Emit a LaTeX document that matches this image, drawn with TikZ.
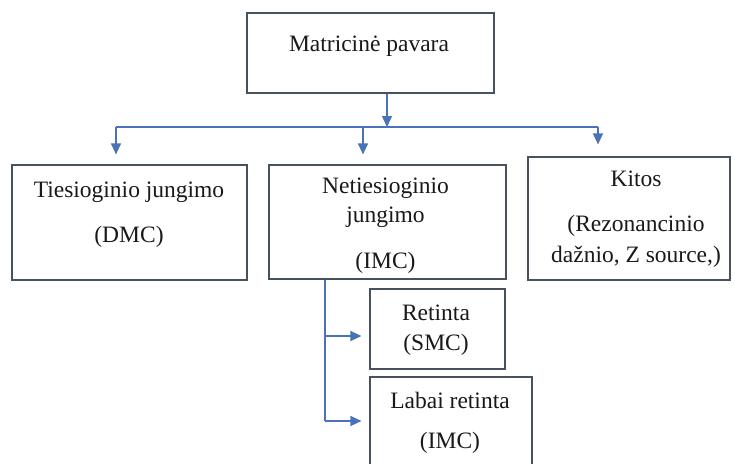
\documentclass[tikz,border=0pt]{standalone}
\usepackage{fontspec}
\setmainfont{Liberation Serif}
\usetikzlibrary{arrows.meta}
\definecolor{boxline}{RGB}{72,82,94}
\definecolor{conn}{RGB}{74,114,184}
\tikzset{
  box/.style={draw=boxline, line width=1.2pt, rectangle, inner sep=0pt, fill=white},
  lbl/.style={inner sep=0pt, font=\fontsize{23.5}{28}\selectfont, text=black!90},
  conline/.style={draw=conn, line width=1.4pt},
  arr/.style={conline, -{Triangle[length=11pt,width=10pt]}}
}
\begin{document}
\begin{tikzpicture}[x=1pt,y=-1pt]
\useasboundingbox (0,0) rectangle (735,463);
\clip (0,0) rectangle (735,463);
\fill[white] (0,0) rectangle (735,463);
% boxes
\node[box, minimum width=247pt, minimum height=80pt] (top) at (370.5,53) {};
\node[box, minimum width=235pt, minimum height=115pt] (b1) at (129.5,222.5) {};
\node[box, minimum width=237pt, minimum height=114pt] (b2) at (387.5,222) {};
\node[box, minimum width=202pt, minimum height=123pt] (b3) at (629,218.5) {};
\node[box, minimum width=135pt, minimum height=80pt] (b4) at (437.5,329) {};
\node[box, minimum width=162pt, minimum height=100pt] (b5) at (451,427) {};
% texts
\node[lbl] (t0) at (369,46) {Matricinė pavara};
\node[lbl] (t1a) at (129,192) {Tiesioginio jungimo};
\node[lbl] (t1b) at (129,237) {(DMC)};
\node[lbl] (t2a) at (385.5,188) {Netiesioginio};
\node[lbl] (t2b) at (385.5,217) {jungimo};
\node[lbl] (t2c) at (385.5,263) {(IMC)};
\node[lbl] (t3a) at (636,179) {Kitos};
\node[lbl] (t3b) at (636,226) {(Rezonancinio};
\node[lbl] (t3c) at (636,257) {dažnio, Z source,)};
\node[lbl] (t4a) at (436,313) {Retinta};
\node[lbl] (t4b) at (436,345) {(SMC)};
\node[lbl] (t5a) at (450,400) {Labai retinta};
\node[lbl] (t5b) at (450,443) {(IMC)};
% junction coordinates
\coordinate (j) at (387,127);
\coordinate (jl) at (116,127);
\coordinate (jm) at (363,127);
\coordinate (jr) at (598,127);
\coordinate (v) at (325,279);
\coordinate (k1) at (325,336);
\coordinate (k2) at (325,421);
% connectors
\draw[arr] (top.south -| j) -- (j);
\draw[conline] (jl) -- (jr);
\draw[arr, shorten >=10pt] (jl) -- (b1.north -| jl);
\draw[arr, shorten >=10pt] (jm) -- (b2.north -| jm);
\draw[arr, shorten >=12pt] (jr) -- (b3.north -| jr);
\draw[conline] (b2.south -| v) -- (k2);
\draw[arr, shorten >=8pt] (k1) -- (b4.west |- k1);
\draw[arr, shorten >=8pt] (k2) -- (b5.west |- k2);
\end{tikzpicture}
\end{document}
